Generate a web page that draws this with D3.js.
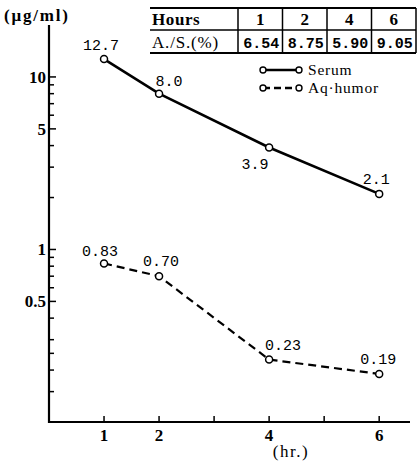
<!DOCTYPE html>
<html>
<head>
<meta charset="utf-8">
<script src="https://cdn.jsdelivr.net/npm/d3@7"></script>
<style>
  body { margin: 0; background: #fff; }
  svg { display: block; }
  .lbl { font-family: "Liberation Serif", "DejaVu Serif", "Times New Roman", serif; font-weight: bold; font-size: 17px; }
  .num { font-family: "Liberation Mono", "DejaVu Sans Mono", monospace; font-size: 15px; }
</style>
</head>
<body>
<script>
// data
var hours = [1, 2, 4, 6];
var serum = [12.7, 8.0, 3.9, 2.1];
var aqHumor = [0.83, 0.70, 0.23, 0.19];
var serumLabels = ["12.7", "8.0", "3.9", "2.1"];
var aqLabels = ["0.83", "0.70", "0.23", "0.19"];
var ratio = ["6.54", "8.75", "5.90", "9.05"];
var yMajor = [10, 5, 1, 0.5];
var yMinor = [9, 8, 7, 6, 4, 3, 2, 0.9, 0.8, 0.7, 0.6, 0.4, 0.3, 0.25, 0.2, 0.15];
var xMajor = [1, 2, 4, 6];
var xMinor = [3, 5];

var width = 419, height = 462;

var svg = d3.select("body").append("svg")
  .attr("width", width)
  .attr("height", height);

var x = d3.scaleLinear().domain([0, 6.56]).range([49, 410]);
var y = d3.scaleLog().domain([0.1, 20]).range([422, 25]);

//------------------------------ axes ------------------------------//
var g = svg.append("g");
g.append("line").attr("x1", x(0)).attr("x2", x(0)).attr("y1", y(20)).attr("y2", y(0.1) + 1)
  .attr("stroke", "#000").attr("stroke-width", 2.2);
g.append("line").attr("x1", x(0) - 1).attr("x2", x(6.56)).attr("y1", y(0.1)).attr("y2", y(0.1))
  .attr("stroke", "#000").attr("stroke-width", 2.2);

// y ticks (inside)
g.selectAll(".ymaj").data(yMajor).enter().append("line")
  .attr("x1", x(0)).attr("x2", x(0) + 7)
  .attr("y1", d => y(d)).attr("y2", d => y(d))
  .attr("stroke", "#000").attr("stroke-width", 1.5);
g.selectAll(".ymin").data(yMinor).enter().append("line")
  .attr("x1", x(0)).attr("x2", x(0) + 5)
  .attr("y1", d => y(d)).attr("y2", d => y(d))
  .attr("stroke", "#000").attr("stroke-width", 1.5);
g.selectAll(".ylab").data(yMajor).enter().append("text")
  .attr("class", "lbl")
  .attr("x", x(0) - 3)
  .attr("y", d => y(d) + 6)
  .attr("text-anchor", "end")
  .text(d => d);

// x ticks (inside)
g.selectAll(".xt").data(xMajor.concat(xMinor)).enter().append("line")
  .attr("x1", d => x(d)).attr("x2", d => x(d))
  .attr("y1", y(0.1)).attr("y2", y(0.1) - 6)
  .attr("stroke", "#000").attr("stroke-width", 1.5);
g.selectAll(".xlab").data(xMajor).enter().append("text")
  .attr("class", "lbl")
  .attr("x", d => x(d))
  .attr("y", 441)
  .attr("text-anchor", "middle")
  .text(d => d);

svg.append("text").attr("class", "lbl").attr("x", 291).attr("y", 457)
  .attr("text-anchor", "middle").style("font-weight", "normal")
  .style("letter-spacing", "1.5px").text("(hr.)");
svg.append("text").attr("class", "lbl").attr("x", 4).attr("y", 21)
  .style("letter-spacing", "1.8px").text("(\u03bcg/ml)");

//------------------------------ lines ------------------------------//
var line = d3.line().x(d => x(d[0])).y(d => y(d[1]));
var serumPts = hours.map((h, i) => [h, serum[i]]);
var aqPts = hours.map((h, i) => [h, aqHumor[i]]);

svg.append("path").attr("d", line(serumPts)).attr("fill", "none")
  .attr("stroke", "#000").attr("stroke-width", 2.6);
svg.append("path").attr("d", line(aqPts)).attr("fill", "none")
  .attr("stroke", "#000").attr("stroke-width", 2.2).attr("stroke-dasharray", "8,5");

svg.selectAll(".pt").data(serumPts.concat(aqPts)).enter().append("circle")
  .attr("cx", d => x(d[0])).attr("cy", d => y(d[1])).attr("r", 3.5)
  .attr("fill", "#fff").attr("stroke", "#000").attr("stroke-width", 1.5);

// value labels
var serumOff = [[-3, -9], [10, -8], [-14, 22], [-3, -10]];
var aqOff = [[-4, -7], [2, -10], [14, -10], [-1, -10]];
svg.selectAll(".sl").data(serumPts).enter().append("text")
  .attr("class", "num").attr("text-anchor", "middle")
  .attr("x", (d, i) => x(d[0]) + serumOff[i][0])
  .attr("y", (d, i) => y(d[1]) + serumOff[i][1])
  .text((d, i) => serumLabels[i]);
svg.selectAll(".al").data(aqPts).enter().append("text")
  .attr("class", "num").attr("text-anchor", "middle")
  .attr("x", (d, i) => x(d[0]) + aqOff[i][0])
  .attr("y", (d, i) => y(d[1]) + aqOff[i][1])
  .text((d, i) => aqLabels[i]);

//------------------------------ table ------------------------------//
var tb = svg.append("g");
var colX = [238, 282.5, 327, 371.5, 416];
var rowY = [8, 30, 53];
rowY.forEach(function (ry, i) {
  tb.append("line").attr("x1", 150).attr("x2", 416).attr("y1", ry).attr("y2", ry)
    .attr("stroke", "#000").attr("stroke-width", i === 1 ? 1.6 : 2);
});
colX.forEach(function (cx) {
  tb.append("line").attr("x1", cx).attr("x2", cx).attr("y1", rowY[0]).attr("y2", rowY[2])
    .attr("stroke", "#000").attr("stroke-width", 1.5);
});
tb.append("text").attr("class", "lbl").attr("x", 152).attr("y", 25)
  .style("letter-spacing", "0.6px").text("Hours");
tb.append("text").attr("class", "lbl").attr("x", 152).attr("y", 48)
  .style("font-weight", "normal").style("letter-spacing", "0.8px").text("A./S.(%)");
hours.forEach(function (h, i) {
  tb.append("text").attr("class", "lbl").attr("text-anchor", "middle")
    .attr("x", (colX[i] + colX[i + 1]) / 2).attr("y", 25).text(h);
  tb.append("text").attr("class", "num").attr("text-anchor", "middle")
    .style("font-weight", "bold")
    .attr("x", (colX[i] + colX[i + 1]) / 2 + 1).attr("y", 48).text(ratio[i]);
});

//------------------------------ legend ------------------------------//
var lg = svg.append("g");
var legendItems = [["Serum", null, 70], ["Aq\u00b7humor", "7,4", 88]];
legendItems.forEach(function (it) {
  lg.append("line").attr("x1", 263).attr("x2", 299).attr("y1", it[2]).attr("y2", it[2])
    .attr("stroke", "#000").attr("stroke-width", 2.4)
    .attr("stroke-dasharray", it[1]);
  [263, 299].forEach(function (cx) {
    lg.append("circle").attr("cx", cx).attr("cy", it[2]).attr("r", 3)
      .attr("fill", "#fff").attr("stroke", "#000").attr("stroke-width", 1.4);
  });
  lg.append("text").attr("class", "lbl").attr("x", 308).attr("y", it[2] + 5)
    .style("font-weight", "normal").style("font-size", "15.5px")
    .style("letter-spacing", "0.8px").text(it[0]);
});
</script>
</body>
</html>
